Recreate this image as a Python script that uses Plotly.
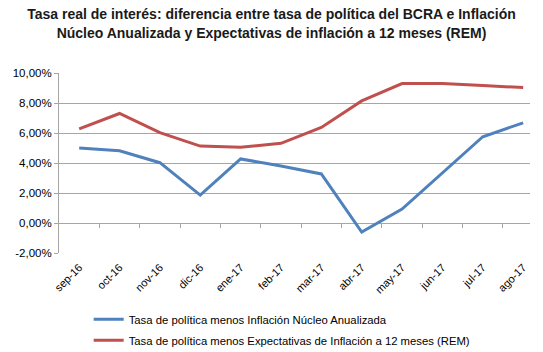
import plotly.graph_objects as go

categories = ["sep-16", "oct-16", "nov-16", "dic-16", "ene-17", "feb-17",
              "mar-17", "abr-17", "may-17", "jun-17", "jul-17", "ago-17"]
nucleo = [5.00, 4.82, 4.02, 1.86, 4.27, 3.80, 3.27, -0.60, 0.93, 3.32, 5.75, 6.68]
rem = [6.28, 7.30, 6.02, 5.13, 5.05, 5.31, 6.37, 8.14, 9.30, 9.30, 9.16, 9.03]
name_nucleo = "Tasa de política menos Inflación Núcleo Anualizada"
name_rem = "Tasa de política menos Expectativas de Inflación a 12 meses (REM)"
y_tickvals = [-2, 0, 2, 4, 6, 8, 10]
y_ticktext = ["-2,00%", "0,00%", "2,00%", "4,00%", "6,00%", "8,00%", "10,00%"]
title = ("<b>Tasa real de interés: diferencia entre tasa de política del BCRA e Inflación<br>"
         "Núcleo Anualizada y Expectativas de inflación a 12 meses (REM)</b>")

BLUE = "#4F81BD"
RED = "#C0504D"
GRID = "#A6A6A6"

xi = list(range(len(categories)))
boundaries = [i + 0.5 for i in range(len(categories) - 1)]

fig = go.Figure()
fig.add_trace(go.Scatter(x=xi, y=nucleo, mode="lines", name=name_nucleo,
                         line=dict(color=BLUE, width=3), legendgroup="a"))
fig.add_trace(go.Scatter(x=xi, y=rem, mode="lines", name=name_rem,
                         line=dict(color=RED, width=3), legendgroup="b"))
# invisible trace to host tick marks on the 0% line
fig.add_trace(go.Scatter(x=[xi[0]], y=[0], xaxis="x2", mode="markers",
                         marker=dict(opacity=0), showlegend=False, hoverinfo="skip"))

ymin, ymax = -2, 10
zero_pos = (0 - ymin) / (ymax - ymin)
xr = [-0.5, 11.17]

fig.update_layout(
    width=543, height=352,
    margin=dict(l=59, r=13, t=73, b=99, autoexpand=False),
    paper_bgcolor="white", plot_bgcolor="white",
    font=dict(family="Liberation Sans, Arial, sans-serif", size=10, color="#000000"),
    title=dict(text=title, x=0.5, xref="container", xanchor="center",
               y=0.945, yref="container", yanchor="top",
               font=dict(size=14, family="Liberation Sans, Arial, sans-serif", color="#1a1a1a")),
    showlegend=True,
    legend=dict(orientation="v", x=0.063, xanchor="left", y=0.134, yanchor="top",
                yref="container",
                font=dict(size=11.3, family="Liberation Sans, Arial, sans-serif"),
                tracegroupgap=2, bgcolor="rgba(0,0,0,0)", itemwidth=30),
    xaxis=dict(range=xr, tickmode="array", tickvals=xi, ticktext=categories,
               tickangle=-45, showgrid=False, zeroline=False, showline=False,
               ticks="", tickfont=dict(size=11), automargin=False, ticklabelstandoff=5),
    xaxis2=dict(overlaying="x", matches="x", range=xr, anchor="free", position=zero_pos,
                tickmode="array", tickvals=boundaries, ticks="outside", ticklen=4,
                tickcolor=GRID, showticklabels=False, showgrid=False, showline=False,
                zeroline=False, automargin=False),
    yaxis=dict(range=[ymin, ymax], tickmode="array", tickvals=y_tickvals, ticktext=y_ticktext,
               showgrid=True, gridcolor=GRID, gridwidth=1, zeroline=False,
               showline=True, linecolor=GRID, linewidth=1, ticks="outside", ticklen=4,
               tickcolor=GRID, tickfont=dict(size=11.5), automargin=False),
)

fig.write_html("out.html")
